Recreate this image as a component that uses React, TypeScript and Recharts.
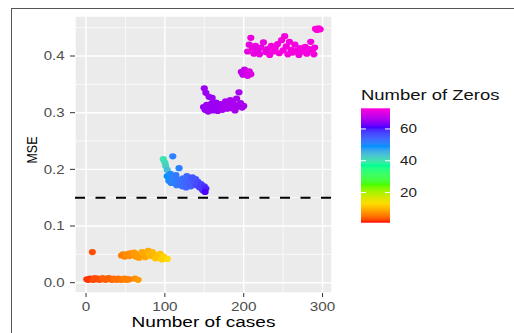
import React from 'react';
import { ScatterChart, Scatter, XAxis, YAxis, CartesianGrid, ReferenceLine } from 'recharts';

// [cases, mse, zeros]
type Pt = [number, number, number];

const lowRun: Pt[] = [
  [1, 0.006, 2], [3, 0.005, 2], [5, 0.007, 2], [7, 0.006, 2], [9, 0.005, 3], [11, 0.008, 3],
  [13, 0.006, 3], [15, 0.007, 3], [17, 0.005, 3], [19, 0.006, 3], [21, 0.008, 4], [23, 0.006, 4],
  [25, 0.005, 4], [27, 0.007, 4], [29, 0.008, 4], [31, 0.006, 4], [33, 0.005, 4], [35, 0.007, 5],
  [37, 0.006, 5], [39, 0.005, 5], [41, 0.007, 5], [43, 0.006, 5], [45, 0.005, 5], [47, 0.006, 6],
  [49, 0.007, 6], [51, 0.005, 6], [53, 0.006, 6], [55, 0.006, 6], [62, 0.007, 7], [66, 0.005, 8],
];

const lowOutlier: Pt[] = [[8, 0.054, 3]];

const orangeRun: Pt[] = [
  [45, 0.048, 6], [47, 0.05, 6], [49, 0.046, 6], [51, 0.049, 7], [53, 0.051, 7], [55, 0.047, 7],
  [57, 0.052, 7], [59, 0.049, 7], [61, 0.053, 8], [63, 0.046, 8], [65, 0.05, 8], [67, 0.044, 8],
  [69, 0.048, 8], [71, 0.054, 9], [73, 0.051, 9], [75, 0.045, 9], [77, 0.049, 9], [79, 0.056, 9],
  [80, 0.052, 10], [82, 0.047, 10], [84, 0.054, 10], [86, 0.05, 10], [88, 0.043, 11], [90, 0.048, 11],
  [92, 0.045, 11], [94, 0.051, 11], [96, 0.041, 12], [98, 0.046, 12], [100, 0.043, 12], [103, 0.042, 13],
];

const blueRun: Pt[] = [
  [98, 0.218, 40], [100, 0.212, 41], [101, 0.206, 42], [103, 0.199, 44], [110, 0.223, 51],
  [103, 0.188, 49], [105, 0.18, 50], [107, 0.192, 50], [108, 0.176, 51], [110, 0.185, 51],
  [112, 0.178, 51], [114, 0.19, 52], [115, 0.172, 52], [117, 0.182, 52], [118, 0.202, 51],
  [120, 0.176, 53], [122, 0.17, 53], [123, 0.184, 53], [125, 0.178, 54], [127, 0.168, 54],
  [128, 0.188, 54], [130, 0.175, 55], [132, 0.181, 55], [133, 0.17, 55], [135, 0.186, 56],
  [137, 0.176, 56], [139, 0.183, 56], [140, 0.172, 57], [142, 0.178, 57], [144, 0.168, 58],
  [146, 0.174, 58], [148, 0.163, 59], [150, 0.17, 59], [152, 0.166, 60], [151, 0.16, 61],
];

const purpleRun: Pt[] = [
  [150, 0.343, 65], [152, 0.335, 65], [156, 0.328, 65], [160, 0.326, 65], [149, 0.31, 65],
  [151, 0.305, 65], [153, 0.314, 65], [155, 0.302, 65], [157, 0.309, 65], [159, 0.316, 65],
  [161, 0.304, 65], [163, 0.311, 65], [165, 0.318, 65], [167, 0.303, 65], [169, 0.31, 65],
  [171, 0.315, 65], [173, 0.305, 66], [175, 0.312, 66], [177, 0.32, 66], [179, 0.307, 66],
  [181, 0.313, 66], [183, 0.322, 66], [185, 0.308, 66], [187, 0.316, 66], [189, 0.304, 66],
  [191, 0.325, 66], [193, 0.311, 66], [194, 0.336, 66], [196, 0.317, 66], [198, 0.309, 66],
  [200, 0.312, 66],
];

const violetRun: Pt[] = [
  [197, 0.372, 68], [199, 0.367, 68], [201, 0.376, 68], [203, 0.37, 69], [205, 0.365, 69],
  [207, 0.373, 70], [209, 0.368, 70],
];

const magentaRun: Pt[] = [
  [205, 0.408, 71], [207, 0.42, 71], [209, 0.432, 71], [211, 0.414, 71], [213, 0.404, 71],
  [215, 0.418, 71], [218, 0.409, 71], [220, 0.403, 71], [222, 0.415, 71], [225, 0.424, 71],
  [228, 0.407, 71], [230, 0.412, 71], [233, 0.402, 72], [235, 0.418, 72], [238, 0.408, 72],
  [240, 0.414, 72], [243, 0.421, 72], [245, 0.405, 72], [248, 0.428, 72], [250, 0.41, 72],
  [252, 0.435, 72], [254, 0.417, 72], [256, 0.403, 72], [258, 0.425, 72], [260, 0.411, 72],
  [262, 0.406, 72], [265, 0.42, 72], [267, 0.409, 72], [270, 0.402, 72], [272, 0.414, 72],
  [275, 0.408, 72], [278, 0.416, 72], [280, 0.404, 72], [283, 0.412, 72], [285, 0.425, 72],
  [287, 0.41, 72], [289, 0.403, 72], [290, 0.415, 72],
];

const topRun: Pt[] = [[291, 0.448, 73], [293, 0.446, 73], [295, 0.449, 73], [297, 0.447, 73]];

const xTicks = [0, 100, 200, 300];
const xMinor = [50, 150, 250];
const yTicks = [0, 0.1, 0.2, 0.3, 0.4];
const yMinor = [0.05, 0.15, 0.25, 0.35, 0.45];
const legendTicks = [20, 40, 60];
const cutoff = 0.15;

// rainbow(7)
const palette = ['#FF0000', '#FFDB00', '#49FF00', '#00FF92', '#0092FF', '#4900FF', '#FF00DB'];
const zerosLimits: [number, number] = [1, 73];

const points = [
  ...lowRun, ...lowOutlier, ...orangeRun, ...blueRun,
  ...purpleRun, ...violetRun, ...magentaRun, ...topRun,
].map(([cases, mse, zeros]) => ({ cases, mse, zeros }));

const FONT = '"Liberation Sans", Arial, Helvetica, sans-serif';
const STRETCH = 1.27;

// --- colour ramp, interpolated in CIELAB like scales::gradient_n_pal ---
const toLin = (c: number) => (c <= 0.04045 ? c / 12.92 : Math.pow((c + 0.055) / 1.055, 2.4));
const toSrgb = (c: number) => (c <= 0.0031308 ? 12.92 * c : 1.055 * Math.pow(c, 1 / 2.4) - 0.055);
const WX = 0.95047, WZ = 1.08883;
const fLab = (t: number) => (t > 0.008856 ? Math.cbrt(t) : 7.787 * t + 16 / 116);
const fInv = (t: number) => (t > 0.206893 ? t * t * t : (t - 16 / 116) / 7.787);

function hexLab(h: string) {
  const [r, g, b] = [1, 3, 5].map((i) => toLin(parseInt(h.slice(i, i + 2), 16) / 255));
  const X = 0.4124 * r + 0.3576 * g + 0.1805 * b;
  const Y = 0.2126 * r + 0.7152 * g + 0.0722 * b;
  const Z = 0.0193 * r + 0.1192 * g + 0.9505 * b;
  const fx = fLab(X / WX), fy = fLab(Y), fz = fLab(Z / WZ);
  return [116 * fy - 16, 500 * (fx - fy), 200 * (fy - fz)];
}

function labRgb([L, a, b]: number[]) {
  const fy = (L + 16) / 116;
  const X = WX * fInv(fy + a / 500);
  const Y = fInv(fy);
  const Z = WZ * fInv(fy - b / 200);
  const r = 3.2406 * X - 1.5372 * Y - 0.4986 * Z;
  const g = -0.9689 * X + 1.8758 * Y + 0.0415 * Z;
  const bl = 0.0557 * X - 0.204 * Y + 1.057 * Z;
  const c = [r, g, bl].map((v) => Math.round(255 * Math.min(1, Math.max(0, toSrgb(Math.max(0, v))))));
  return `rgb(${c[0]},${c[1]},${c[2]})`;
}

const paletteLab = palette.map(hexLab);

function zerosColor(z: number) {
  const [lo, hi] = zerosLimits;
  const t = Math.min(1, Math.max(0, (z - lo) / (hi - lo)));
  const seg = t * (palette.length - 1);
  const i = Math.min(Math.floor(seg), palette.length - 2);
  const f = seg - i;
  const a = paletteLab[i];
  const b = paletteLab[i + 1];
  return labRgb(a.map((v, k) => v + (b[k] - v) * f));
}

const XTick = (props: any) => {
  const { x, y, payload } = props;
  return (
    <text
      transform={`translate(${x},${y + 11.7}) scale(${STRETCH},1)`}
      textAnchor="middle"
      fontSize={12}
      fontFamily={FONT}
      fill="#4D4D4D"
    >
      {payload.value}
    </text>
  );
};

const YTick = (props: any) => {
  const { x, y, payload } = props;
  return (
    <text
      transform={`translate(${x - 3.5},${y + 4.3}) scale(1.25,1)`}
      textAnchor="end"
      fontSize={12}
      fontFamily={FONT}
      fill="#4D4D4D"
    >
      {Number(payload.value).toFixed(1)}
    </text>
  );
};

const Dot = (props: any) => {
  const { cx, cy, payload } = props;
  return <ellipse cx={cx} cy={cy} rx={3.6} ry={3.1} fill={zerosColor(payload.zeros)} />;
};

// colour bar for the zeros scale
const ColourBar = () => {
  const left = 361;
  const top = 108.3;
  const w = 29;
  const h = 114.4;
  const [lo, hi] = zerosLimits;
  const yOf = (v: number) => top + h - ((v - lo) / (hi - lo)) * h;
  const steps = Array.from({ length: 49 }, (_, i) => i / 48);
  return (
    <svg
      width={514}
      height={333}
      style={{ position: 'absolute', left: 0, top: 0, pointerEvents: 'none' }}
    >
      <defs>
        <linearGradient id="zerosGrad" x1="0" y1="1" x2="0" y2="0">
          {steps.map((s) => (
            <stop key={s} offset={s} stopColor={zerosColor(lo + s * (hi - lo))} />
          ))}
        </linearGradient>
      </defs>
      <text
        transform={`translate(${left},100) scale(1.32,1)`}
        fontSize={14}
        fontFamily={FONT}
        fill="#111"
      >
        Number of Zeros
      </text>
      <rect x={left} y={top} width={w} height={h} fill="url(#zerosGrad)" />
      {legendTicks.map((v) => (
        <g key={v}>
          <line x1={left} x2={left + 5} y1={yOf(v)} y2={yOf(v)} stroke="#fff" strokeWidth={1} />
          <line x1={left + w - 5} x2={left + w} y1={yOf(v)} y2={yOf(v)} stroke="#fff" strokeWidth={1} />
          <text
            transform={`translate(400,${yOf(v) + 4.3}) scale(${STRETCH},1)`}
            fontSize={12}
            fontFamily={FONT}
            fill="#222"
          >
            {v}
          </text>
        </g>
      ))}
    </svg>
  );
};

export default function App() {
  return (
    <div
      style={{
        position: 'absolute',
        left: 0,
        top: 0,
        width: 514,
        height: 333,
        background: '#fff',
        fontFamily: FONT,
        overflow: 'hidden',
      }}
    >
      <ScatterChart width={514} height={333} margin={{ top: 16, right: 182, bottom: 0, left: 0 }}>
        <CartesianGrid fill="#EBEBEB" stroke="#FFFFFF" strokeWidth={1.4} />
        {xMinor.map((v) => (
          <ReferenceLine key={`vx${v}`} x={v} stroke="#FFFFFF" strokeWidth={0.7} />
        ))}
        {yMinor.map((v) => (
          <ReferenceLine key={`hy${v}`} y={v} stroke="#FFFFFF" strokeWidth={0.7} />
        ))}
        <XAxis
          type="number"
          dataKey="cases"
          domain={[-14, 312]}
          ticks={xTicks}
          allowDataOverflow
          axisLine={false}
          tickLine={{ stroke: '#333', strokeWidth: 1 }}
          tickSize={4}
          height={40}
          tick={(p: any) => <XTick {...p} />}
          label={{
            content: (p: any) => {
              const vb = p.viewBox;
              return (
                <text
                  transform={`translate(${vb.x + vb.width / 2},${vb.y + 34.3}) scale(${STRETCH},1)`}
                  textAnchor="middle"
                  fontSize={15}
                  fontFamily={FONT}
                  fill="#000"
                >
                  Number of cases
                </text>
              );
            },
          }}
        />
        <YAxis
          type="number"
          dataKey="mse"
          domain={[-0.0182, 0.4706]}
          ticks={yTicks}
          allowDataOverflow
          axisLine={false}
          tickLine={{ stroke: '#333', strokeWidth: 1 }}
          tickSize={5}
          width={75}
          tick={(p: any) => <YTick {...p} />}
          label={{
            content: (p: any) => {
              const vb = p.viewBox;
              return (
                <text
                  transform={`translate(37,${vb.y + vb.height / 2 - 4.5}) scale(1.2,1) rotate(-90)`}
                  textAnchor="middle"
                  fontSize={12.5}
                  fontFamily={FONT}
                  fill="#000"
                >
                  MSE
                </text>
              );
            },
          }}
        />
        <Scatter data={points} isAnimationActive={false} shape={(p: any) => <Dot {...p} />} />
        <ReferenceLine y={cutoff} stroke="#000" strokeWidth={2} strokeDasharray="10 10.5" />
      </ScatterChart>
      <ColourBar />
      <div
        style={{
          position: 'absolute',
          left: 11,
          top: 8,
          width: 520,
          height: 340,
          borderTop: '1.5px solid #555',
          borderLeft: '1.5px solid #555',
          boxSizing: 'border-box',
        }}
      />
    </div>
  );
}
